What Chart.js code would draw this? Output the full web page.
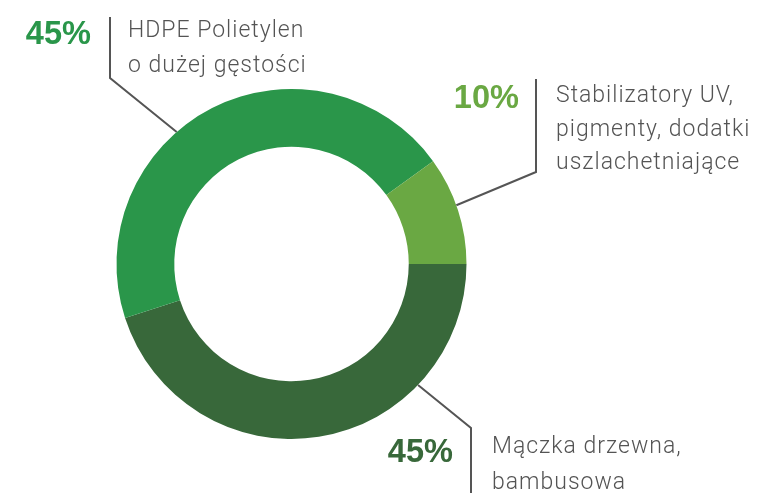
<!DOCTYPE html>
<html>
<head>
<meta charset="utf-8">
<script src="https://cdn.jsdelivr.net/npm/chart.js@4.4.1/dist/chart.umd.min.js"></script>
<style>
  html, body { margin: 0; padding: 0; background: #fff; }
  #chart { display: block; }
</style>
</head>
<body>
<canvas id="chart" width="764" height="493"></canvas>
<script>
// data, clockwise from 3 o'clock
const categories = [
  "Mączka drzewna, bambusowa",
  "HDPE Polietylen o dużej gęstości",
  "Stabilizatory UV, pigmenty, dodatki uszlachetniające",
];
const shares = [45, 45, 10];
const labelLines = [
  ["Mączka drzewna,", "bambusowa"],
  ["HDPE Polietylen", "o dużej gęstości"],
  ["Stabilizatory UV,", "pigmenty, dodatki", "uszlachetniające"],
];

const segColors = ["#38683a", "#2a964a", "#6aa843"];

// callout layout for each slice (angle in degrees, screen coords)
const callouts = [
  { angle: 43.7, elbow: [471, 428], end: [471, 500], pct: [453, 462], text: [492, 453], lineGap: 36 },
  { angle: -131, elbow: [110, 78], end: [110, 17], pct: [91, 44], text: [128, 37], lineGap: 35 },
  { angle: -19.6, elbow: [536, 172], end: [536, 79], pct: [519, 108], text: [556, 102], lineGap: 33.5 },
];

const calloutPlugin = {
  id: "callouts",
  afterDraw(chart) {
    const ctx = chart.ctx;
    const meta = chart.getDatasetMeta(0);
    meta.data.forEach((arc, i) => {
      const c = callouts[i];
      const a = c.angle * Math.PI / 180;
      const ax = arc.x + Math.cos(a) * arc.outerRadius;
      const ay = arc.y + Math.sin(a) * arc.outerRadius;

      ctx.save();
      ctx.strokeStyle = "#555";
      ctx.lineWidth = 2;
      ctx.beginPath();
      ctx.moveTo(ax, ay);
      ctx.lineTo(c.elbow[0], c.elbow[1]);
      ctx.lineTo(c.end[0], c.end[1]);
      ctx.stroke();

      // percentage, condensed bold look
      ctx.fillStyle = segColors[i];
      ctx.font = "bold 35px 'Liberation Sans', Arial, sans-serif";
      ctx.textAlign = "right";
      ctx.textBaseline = "alphabetic";
      ctx.save();
      ctx.translate(c.pct[0], c.pct[1]);
      ctx.scale(0.93, 0.95);
      ctx.fillText(shares[i] + "%", 0, 0);
      ctx.restore();

      // description
      ctx.fillStyle = "#545454";
      ctx.font = "300 23px Roboto, 'Liberation Sans', sans-serif";
      ctx.letterSpacing = "1px";
      ctx.textAlign = "left";
      labelLines[i].forEach((line, j) => {
        ctx.fillText(line, c.text[0], c.text[1] + j * c.lineGap);
      });
      ctx.restore();
    });
  },
};

new Chart(document.getElementById("chart").getContext("2d"), {
  type: "doughnut",
  data: {
    labels: categories,
    datasets: [
      {
        data: shares,
        backgroundColor: segColors,
        borderWidth: 0,
        hoverOffset: 0,
      },
    ],
  },
  options: {
    responsive: false,
    animation: false,
    rotation: 90,
    cutout: "67%",
    layout: {
      padding: { left: 116.5, right: 297.5, top: 89, bottom: 54 },
    },
    plugins: {
      legend: { display: false },
      tooltip: { enabled: false },
    },
  },
  plugins: [calloutPlugin],
});
</script>
</body>
</html>
